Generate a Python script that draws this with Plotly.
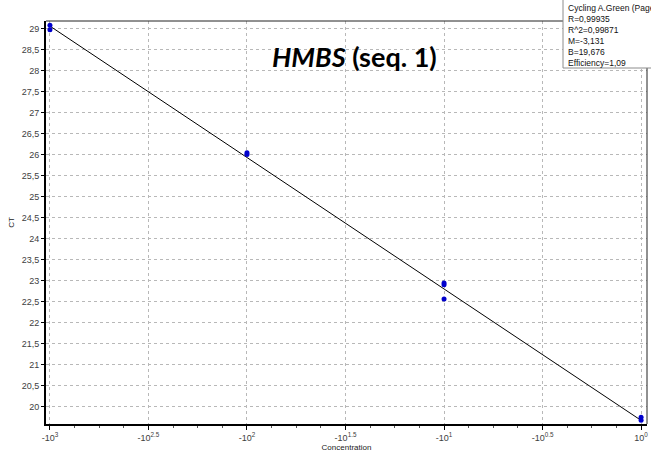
import plotly.graph_objects as go

# Data (log10 concentration vs CT)
log_conc = [-3, -3, -2, -2, -1, -1, -1, 0, 0]
ct_values = [29.09, 28.98, 26.05, 26.01, 22.95, 22.91, 22.57, 19.75, 19.68]

# Fit parameters from the legend
fit_M = -3.131
fit_B = 19.676
fit_x = [-3, 0]
fit_y = [fit_M * x + fit_B for x in fit_x]

stats_lines = ["Cycling A.Green (Page 1)", "R=0,99935", "R^2=0,99871",
               "M=-3,131", "B=19,676", "Efficiency=1,09"]

x_tickvals = [-3, -2.5, -2, -1.5, -1, -0.5, 0]
x_ticktext = ["-10<sup>3</sup>", "-10<sup>2.5</sup>", "-10<sup>2</sup>", "-10<sup>1.5</sup>",
              "-10<sup>1</sup>", "-10<sup>0.5</sup>", "10<sup>0</sup>"]
y_tickvals = [20 + 0.5 * i for i in range(19)]
y_ticktext = [(("%g" % v).replace(".", ",")) for v in y_tickvals]

W, H = 651, 453
L, R, T, B = 46, 4, 21, 29

fig = go.Figure()
fig.add_trace(go.Scatter(x=fit_x, y=fit_y, mode="lines",
                         line=dict(color="black", width=1), showlegend=False))
fig.add_trace(go.Scatter(x=log_conc, y=ct_values, mode="markers",
                         marker=dict(color="#0000CC", size=5, symbol="circle"),
                         showlegend=False))

axis_font = dict(family="Liberation Sans, Arial, sans-serif", size=9, color="#404040")

fig.update_layout(
    width=W, height=H,
    margin=dict(l=L, r=R, t=T, b=B),
    paper_bgcolor="white", plot_bgcolor="white",
    xaxis=dict(range=[-3.02, 0.03], tickvals=x_tickvals, ticktext=x_ticktext,
               showgrid=True, gridcolor="#b8b8b8", griddash="3px,3px", gridwidth=1,
               zeroline=False, showline=True, linecolor="black", linewidth=2,
               ticks="outside", ticklen=4, tickcolor="black", tickfont=axis_font,
               minor=dict(dtick=0.125, tick0=0, ticks="outside", ticklen=2,
                          tickcolor="#555", showgrid=False),
               title=dict(text="Concentration", font=dict(family="Liberation Sans, Arial, sans-serif",
                                                         size=8, color="#222"), standoff=2)),
    yaxis=dict(range=[19.59, 29.19], tickvals=y_tickvals, ticktext=y_ticktext,
               showgrid=True, gridcolor="#b8b8b8", griddash="3px,3px", gridwidth=1,
               zeroline=False, showline=True, linecolor="black", linewidth=2,
               ticks="outside", ticklen=3, tickcolor="black", tickfont=axis_font,
               title=dict(text="CT", font=dict(family="Liberation Sans, Arial, sans-serif",
                                               size=8, color="#222"), standoff=6)),
)

# thin frame on top/right
fig.add_shape(type="line", xref="paper", yref="paper", x0=0, x1=1, y0=1, y1=1,
              line=dict(color="#222", width=1))
fig.add_shape(type="line", xref="paper", yref="paper", x0=1, x1=1, y0=0, y1=1,
              line=dict(color="#222", width=1))

# stats box (pixel -> paper conversion)
pw, ph = W - L - R, H - T - B
def px(xp):
    return (xp - L) / pw
def py(yp):
    return (H - B - yp) / ph

fig.add_shape(type="rect", xref="paper", yref="paper", layer="above",
              x0=px(563), x1=px(660), y0=py(68), y1=py(-1),
              fillcolor="white", line=dict(color="#8c8c8c", width=1))
for i, s in enumerate(stats_lines):
    fig.add_annotation(xref="paper", yref="paper", x=px(566), y=py(1 + 11 * i),
                       xanchor="left", yanchor="top", text=s, showarrow=False,
                       font=dict(family="Liberation Sans, Arial, sans-serif", size=8.5, color="#111"))

# title
fig.add_annotation(xref="paper", yref="paper", x=px(354), y=py(56),
                   xanchor="center", yanchor="middle", showarrow=False,
                   text="<b><i>HMBS</i> (seq. 1)</b>",
                   font=dict(family="Lato, Open Sans, sans-serif", size=27, color="black"))

fig.write_html("out.html")
